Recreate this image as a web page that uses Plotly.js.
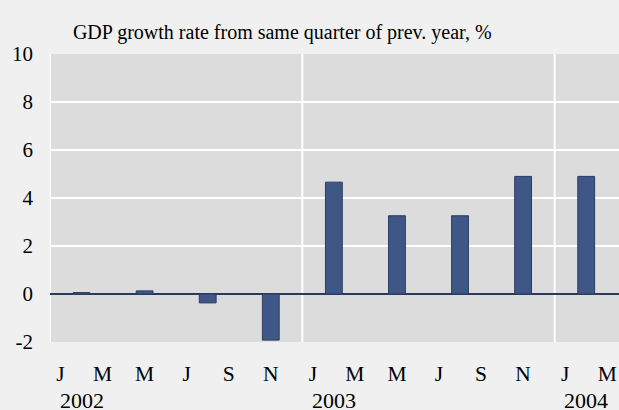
<!DOCTYPE html>
<html>
<head>
<meta charset="utf-8">
<script src="https://cdn.plot.ly/plotly-3.0.1.min.js"></script>
<style>html,body{margin:0;padding:0;background:#f0f0f0;}#chart{width:619px;height:410px;}</style>
</head>
<body>
<div id="chart"></div>
<script>
// Data
const monthTickLabels = ['J','M','M','J','S','N','J','M','M','J','S','N','J','M'];
const years = ['2002','2003','2004'];
const quarters = ['2002 Q1','2002 Q2','2002 Q3','2002 Q4','2003 Q1','2003 Q2','2003 Q3','2003 Q4','2004 Q1'];
const growth = [0.06, 0.13, -0.37, -1.92, 4.66, 3.26, 3.26, 4.90, 4.90];
const yTicks = [-2, 0, 2, 4, 6, 8, 10];
const yTickLabels = ['-2', '0', '2', '4', '6', '8', '10'];

// Month index axis: 0 = Jan 2002; each quarter plotted at its middle month
const barX = quarters.map((q, i) => 3 * i + 1);
const tickVals = monthTickLabels.map((m, i) => 2 * i);
const yearStarts = years.map((y, i) => 12 * i - 0.5);

const font = 'Liberation Serif';

const shapes = yearStarts.map(x => ({
  type: 'line', xref: 'x', yref: 'paper', x0: x, x1: x, y0: 0, y1: 1,
  line: {color: '#ffffff', width: 2}, layer: 'below'
}));

const annotations = years.map((y, i) => ({
  text: y, xref: 'x', yref: 'paper', x: yearStarts[i] + 1.5, y: 0,
  xanchor: 'center', yanchor: 'top', yshift: -49, showarrow: false,
  height: 16, valign: 'middle', borderpad: 0,
  font: {family: font, size: 22, color: '#000'}
}));

Plotly.newPlot('chart', [{
  type: 'bar', x: barX, y: growth, width: 0.8,
  marker: {color: '#3f5787', line: {color: '#2b3c5e', width: 1}},
  hoverinfo: 'skip'
}], {
  width: 619, height: 410,
  margin: {l: 50, r: 0, t: 54, b: 68, pad: 0},
  paper_bgcolor: '#f0f0f0', plot_bgcolor: '#dcdcdc',
  showlegend: false,
  font: {family: font, color: '#000'},
  title: {text: 'GDP growth rate from same quarter of prev. year, %',
    x: 0.456, xanchor: 'center', y: 0.922, yanchor: 'middle',
    font: {family: font, size: 20, color: '#000'}},
  xaxis: {range: [-0.5, 26.56], tickmode: 'array', tickvals: tickVals, ticktext: monthTickLabels,
    showgrid: false, zeroline: false, showline: false, ticks: '',
    ticklabelstandoff: 16,
    tickfont: {family: font, size: 21.5, color: '#000'}, fixedrange: true},
  yaxis: {range: [-2, 10], tickmode: 'array', tickvals: yTicks, ticktext: yTickLabels,
    showgrid: true, gridcolor: '#ffffff', gridwidth: 2,
    zeroline: true, zerolinecolor: '#2a3a5a', zerolinewidth: 1.5,
    showline: false, ticks: '', ticklabelstandoff: 16,
    tickfont: {family: font, size: 21, color: '#000'}, fixedrange: true},
  shapes: shapes,
  annotations: annotations,
  bargap: 0.2
}, {displayModeBar: false, staticPlot: true});
</script>
</body>
</html>
